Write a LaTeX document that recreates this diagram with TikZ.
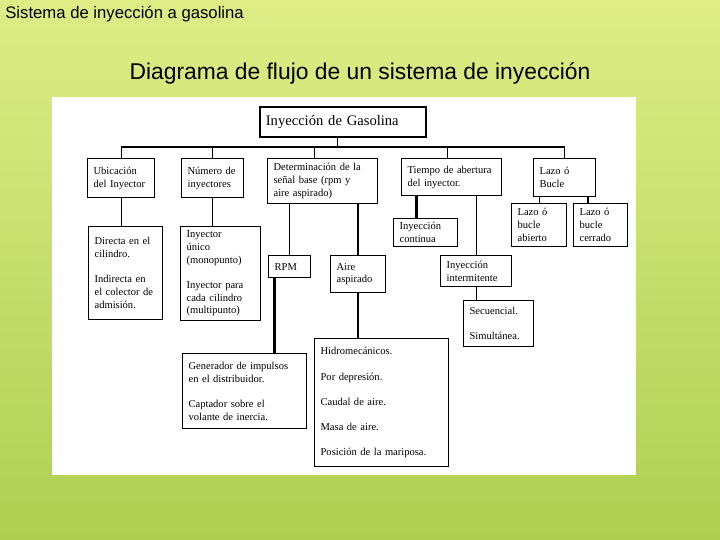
\documentclass[tikz,border=0pt]{standalone}
\usepackage{fontspec}
\setmainfont{Liberation Serif}
\newfontfamily\arialfont{Liberation Sans}
\usepackage{xcolor}
\usepackage{tikz}
\usetikzlibrary{positioning,calc}

\definecolor{verdearriba}{RGB}{222,237,134}
\definecolor{verdeabajo}{RGB}{174,207,82}

\begin{document}
\begin{tikzpicture}[
					x=0.02cm, y=-0.02cm, % 1 unidad = 1 px de la imagen
					caja/.style={
						draw=black,            % borde negro
						line width=0.7pt,
						fill=white,
						anchor=north west,
						align=left,
						inner xsep=0.12cm,
						inner ysep=0.08cm,
						font=\fontsize{6}{7.3}\selectfont
					},
					% --- lineas finas y gruesas ---
					fina/.style={black, line width=0.6pt},
					gruesa/.style={black, line width=1.3pt}
					]
					% --- FONDO ---
					\shade[top color=verdearriba, bottom color=verdeabajo] (0,0) rectangle (720,540);
					\fill[white] (52,97) rectangle (636,475);
					
					% --- TITULOS ---
					\node[anchor=west, font=\arialfont\fontsize{9.5}{11}\selectfont, inner sep=0] (subtitulo) at (5,14) {Sistema de inyección a gasolina};
					\node[font=\arialfont\fontsize{13}{15}\selectfont, inner sep=0] (titulo) at (360,73) {Diagrama de flujo de un sistema de inyección};
					
					% --- NIVEL 1 ---
					\node[caja, line width=1pt, text width=3.08cm, minimum height=0.6cm, font=\fontsize{8.3}{10}\selectfont] (gas) at (259,106) {Inyección de Gasolina};
					
					% --- NIVEL 2 ---
					\node[caja, text width=1.1cm, minimum height=0.78cm] (ubic) at (87,158) {Ubicación\\del Inyector};
					\node[caja, text width=1.0cm, minimum height=0.78cm] (num) at (181,158) {Número de\\inyectores};
					\node[caja, text width=1.96cm, minimum height=0.9cm] (det) at (267,158) {Determinación de la\\señal base (rpm y\\aire aspirado)};
					\node[caja, text width=1.76cm, minimum height=0.74cm] (tiempo) at (401,158) {Tiempo de abertura\\del inyector.};
					\node[caja, text width=1.0cm, minimum height=0.76cm] (lazo) at (533,158) {Lazo ó\\Bucle};
					
					% --- NIVEL 3 ---
					\node[caja, text width=0.86cm, minimum height=0.86cm] (abierto) at (511,203) {Lazo ó\\bucle\\abierto};
					\node[caja, text width=0.84cm, minimum height=0.86cm] (cerrado) at (573,203) {Lazo ó\\bucle\\cerrado};
					\node[caja, text width=1.04cm, minimum height=0.56cm] (continua) at (393,218) {Inyección\\continua};
					\node[caja, text width=1.24cm, minimum height=1.86cm] (directa) at (88,226) {Directa en el\\cilindro.\\[7pt]Indirecta en\\el colector de\\admisión.};
					\node[caja, text width=1.36cm, minimum height=1.86cm] (inyector) at (180,226) {Inyector\\único\\(monopunto)\\[7pt]Inyector para\\cada cilindro\\(multipunto)};
					\node[caja, text width=0.6cm, minimum height=0.44cm] (rpm) at (268,255) {RPM};
					\node[caja, text width=0.86cm, minimum height=0.74cm] (aire) at (330,255) {Aire\\aspirado};
					\node[caja, text width=1.18cm, minimum height=0.62cm] (intermit) at (440,255) {Inyección\\intermitente};
					
					% --- NIVEL 4 ---
					\node[caja, text width=1.16cm, minimum height=0.92cm] (secuencial) at (463,300) {Secuencial.\\[7pt]Simultánea.};
					\node[caja, text width=2.24cm, minimum height=1.5cm] (generador) at (182,353) {Generador de impulsos\\en el distribuidor.\\[7pt]Captador sobre el\\volante de inercia.};
					\node[caja, text width=2.44cm, minimum height=2.56cm] (hidro) at (314,338) {Hidromecánicos.\\[7pt]Por depresión.\\[7pt]Caudal de aire.\\[7pt]Masa de aire.\\[7pt]Posición de la mariposa.};
					
					% --- CONECTORES ---
					\coordinate (bus) at (0,147);
					\draw[fina] ([xshift=-0.1cm]gas.south) -- ([xshift=-0.1cm]gas.south |- bus);
					\draw[fina] (ubic.north) -- (ubic.north |- bus) -- (lazo.north |- bus) -- (lazo.north);
					\foreach \n/\dx in {num/0, det/-0.16, tiempo/-0.08} {
						\draw[fina] ([xshift=\dx cm]\n.north) -- ([xshift=\dx cm]\n.north |- bus);
					}
					% Ubicacion y numero
					\draw[fina] (ubic.south) -- (ubic.south |- directa.north);
					\draw[fina] (num.south) -- (num.south |- inyector.north);
					% Señal base
					\draw[fina] (det.south -| rpm.north) -- (rpm.north);
					\draw[gruesa] (det.south -| aire.north) -- (aire.north);
					\draw[gruesa] ([xshift=-0.3cm]rpm.south) -- ([xshift=-0.3cm]rpm.south |- generador.north);
					\draw[gruesa] (aire.south) -- (aire.south |- hidro.north);
					% Tiempo de abertura
					\coordinate (cont-n) at ([xshift=-0.18cm]continua.north);
					\draw[gruesa] (tiempo.south -| cont-n) -- (cont-n);
					\draw[fina] (tiempo.south -| intermit.north) -- (intermit.north);
					\draw[fina] (intermit.south) -- (intermit.south |- secuencial.north);
					% Lazo
					\draw[fina] (lazo.south -| abierto.north) -- (abierto.north);
					\coordinate (cerr-n) at ([xshift=-0.25cm]cerrado.north);
					\draw[gruesa] (lazo.south -| cerr-n) -- (cerr-n);
					
				\end{tikzpicture}
\end{document}
